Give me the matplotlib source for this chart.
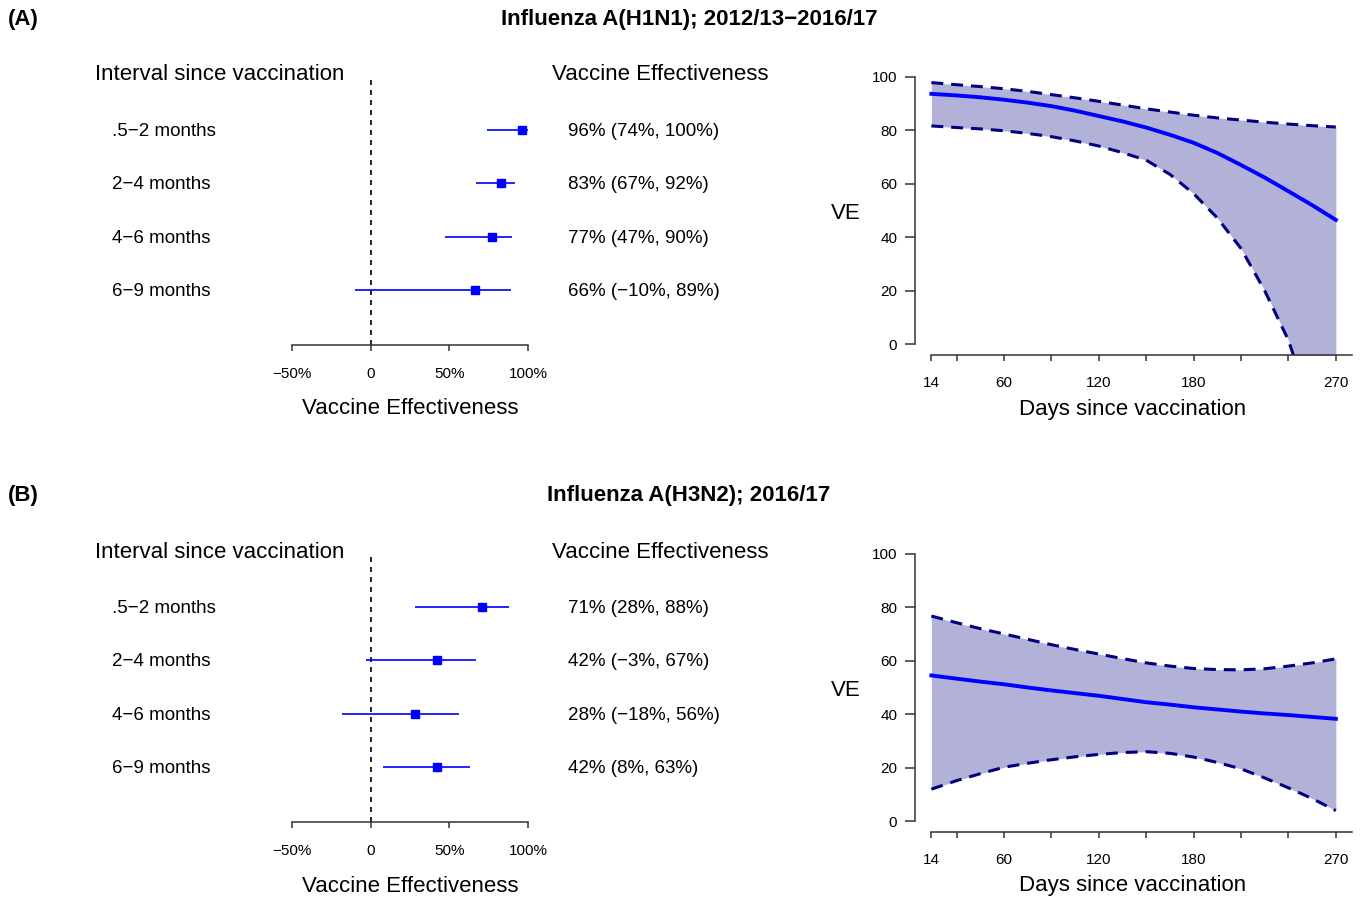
import matplotlib

matplotlib.use("Agg")
import matplotlib.pyplot as plt
from matplotlib.transforms import blended_transform_factory

plt.rcParams["font.family"] = ["Liberation Sans", "DejaVu Sans"]

W, H = 1366, 901

intervals = [".5\u22122 months", "2\u22124 months", "4\u22126 months", "6\u22129 months"]

# panel A: influenza A(H1N1)
h1_est = [96, 83, 77, 66]
h1_lo = [74, 67, 47, -10]
h1_hi = [100, 92, 90, 89]

# panel B: influenza A(H3N2)
h3_est = [71, 42, 28, 42]
h3_lo = [28, -3, -18, 8]
h3_hi = [88, 67, 56, 63]

days = [14, 30, 45, 60, 75, 90, 105, 120, 135, 150, 165, 180, 195, 210, 225, 240, 255, 270]
h1_ve = [93.6, 93.0, 92.3, 91.4, 90.3, 89.0, 87.3, 85.3, 83.3, 81.0, 78.3, 75.3, 71.5,
         67.0, 62.3, 57.2, 52.0, 46.5]
h1_upper = [97.8, 97.0, 96.3, 95.5, 94.5, 93.3, 92.1, 90.8, 89.4, 88.0, 86.8, 85.6, 84.6,
            83.8, 83.0, 82.3, 81.7, 81.2]
h1_lower = [81.6, 81.0, 80.5, 79.8, 78.8, 77.6, 76.0, 74.1, 71.6, 68.8, 63.5, 56.3, 47.2,
            35.8, 20.0, 1.5, -25.0, -60.0]
h3_ve = [54.5, 53.3, 52.2, 51.2, 50.0, 48.9, 47.9, 46.9, 45.7, 44.5, 43.6, 42.6, 41.8,
         41.0, 40.3, 39.7, 39.0, 38.3]
h3_upper = [76.7, 74.2, 72.0, 70.0, 68.0, 66.0, 64.2, 62.5, 60.8, 59.2, 58.0, 57.1, 56.7,
            56.6, 57.0, 58.0, 59.2, 60.7]
h3_lower = [12.0, 15.2, 17.8, 20.2, 21.7, 23.0, 24.1, 25.0, 25.7, 26.0, 25.4, 24.0, 22.0,
            19.6, 16.2, 12.5, 8.5, 4.0]

day_ticks = [14, 30, 60, 90, 120, 150, 180, 210, 240, 270]
day_labels = ["14", "", "60", "", "120", "", "180", "", "", "270"]


def fx(x):
    return x / W


def fy(y):
    return 1 - y / H


def rect(left, top, right, bottom):
    return [left / W, 1 - bottom / H, (right - left) / W, (bottom - top) / H]


def pct(v):
    return f"{v}%".replace("-", "\u2212")


def draw_panel(fig, dy, tag, title, est, lo, hi, ve, upper, lower):
    fig.text(fx(8), fy(19 + dy), tag, fontsize=16, fontweight="bold", va="center")
    fig.text(fx(689), fy(19 + dy), title, fontsize=16, fontweight="bold",
             ha="center", va="center")
    fig.text(fx(95), fy(75 + dy), "Interval since vaccination", fontsize=16, va="center")
    fig.text(fx(552), fy(75 + dy), "Vaccine Effectiveness", fontsize=16, va="center")

    # forest plot
    ax = fig.add_axes(rect(292, 78 + dy, 528, 345 + dy))
    rows = list(range(len(est)))
    ax.set_xlim(-50, 100)
    ax.set_ylim(4.03, -0.975)
    ax.axvline(0, color="black", linewidth=1.2, linestyle=(0, (3, 3)))
    ax.hlines(rows, lo, hi, color="#0000ff", linewidth=1.2, clip_on=False)
    ax.plot(est, rows, "s", color="#0000ff", markersize=5.5, clip_on=False)
    tr = blended_transform_factory(fig.transFigure, ax.transData)
    for r, name, e, l, h in zip(rows, intervals, est, lo, hi):
        ax.text(fx(112), r + 0.03, name, transform=tr, fontsize=13.5, va="center")
        ax.text(fx(568), r + 0.03, f"{pct(e)} ({pct(l)}, {pct(h)})", transform=tr,
                fontsize=13.5, va="center")
    for side in ("left", "top", "right"):
        ax.spines[side].set_visible(False)
    ax.spines["bottom"].set_linewidth(1.1)
    ax.spines["bottom"].set_color("#333333")
    ax.set_yticks([])
    ax.set_xticks([-50, 0, 50, 100], ["\u221250%", "0", "50%", "100%"])
    ax.tick_params(axis="x", length=4, width=1.1, pad=12, labelsize=11,
                   colors="#333333", labelcolor="black")
    fig.text(fx(410), fy(409 + dy), "Vaccine Effectiveness", fontsize=16,
             ha="center", va="center")

    # waning curve
    bx = fig.add_axes(rect(915.2, 66 + dy, 1352, 355 + dy))
    bx.fill_between(days, lower, upper, color="#000080", alpha=0.3, linewidth=0)
    bx.plot(days, upper, color="#000080", linewidth=2.2, dashes=(3.9, 2.6))
    bx.plot(days, lower, color="#000080", linewidth=2.2, dashes=(3.9, 2.6))
    bx.plot(days, ve, color="#0000ff", linewidth=2.8)
    bx.set_xlim(3.76, 280.24)
    bx.set_ylim(-4, 104)
    for side in ("top", "right"):
        bx.spines[side].set_visible(False)
    bx.spines["left"].set_bounds(0, 100)
    bx.spines["bottom"].set_bounds(14, 280.24)
    for side in ("left", "bottom"):
        bx.spines[side].set_linewidth(1.1)
        bx.spines[side].set_color("#333333")
    bx.set_yticks([0, 20, 40, 60, 80, 100])
    bx.set_xticks(day_ticks, day_labels)
    bx.tick_params(axis="y", length=7, width=1.1, pad=6, labelsize=11,
                   colors="#333333", labelcolor="black")
    bx.tick_params(axis="x", length=4, width=1.1, pad=11, labelsize=11,
                   colors="#333333", labelcolor="black")
    fig.text(fx(846), fy(213 + dy), "VE", fontsize=16, ha="center", va="center")
    fig.text(fx(1133), fy(409 + dy), "Days since vaccination", fontsize=16,
             ha="center", va="center")


fig = plt.figure(figsize=(W / 100, H / 100), dpi=100)
draw_panel(fig, 0, "(A)", "Influenza A(H1N1); 2012/13\u22122016/17",
           h1_est, h1_lo, h1_hi, h1_ve, h1_upper, h1_lower)
draw_panel(fig, 477, "(B)", "Influenza A(H3N2); 2016/17",
           h3_est, h3_lo, h3_hi, h3_ve, h3_upper, h3_lower)
fig.savefig("out.png", dpi=100)
plt.close(fig)
